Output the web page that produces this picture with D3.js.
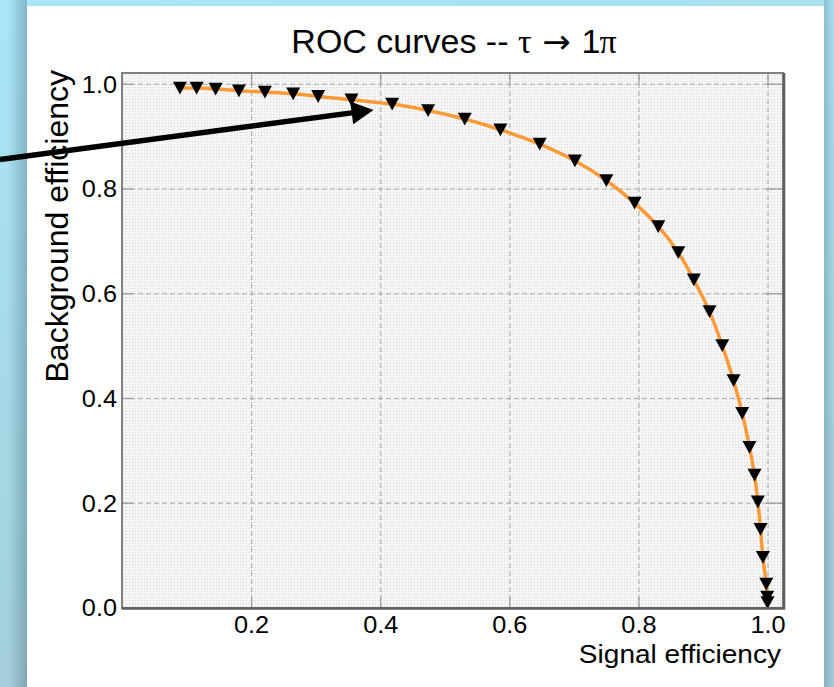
<!DOCTYPE html>
<html><head><meta charset="utf-8">
<script src="https://cdn.jsdelivr.net/npm/d3@7/dist/d3.min.js"></script>
<style>html,body{margin:0;padding:0;overflow:hidden;background:#a8dff0}</style>
</head><body>
<svg id="c" width="834" height="687"></svg>
<script>
// ---- data ----
const titleParts = [
  {t: "ROC curves -- ", font: "sans"},
  {t: "τ", font: "serif"},
  {t: " → ", font: "arrow"},
  {t: "1", font: "sans"},
  {t: "π", font: "serif", dx: -1}
];
const xLabel = "Signal efficiency";
const yLabel = "Background efficiency";
const xTicks = [0.2, 0.4, 0.6, 0.8, 1.0];
const yTicks = [0.0, 0.2, 0.4, 0.6, 0.8, 1.0];
const xTickLabels = ["0.2", "0.4", "0.6", "0.8", "1.0"];
const yTickLabels = ["0.0", "0.2", "0.4", "0.6", "0.8", "1.0"];
const signalEff = [0.0898, 0.1156, 0.1450, 0.1811, 0.2214, 0.2652, 0.3039, 0.3556, 0.4185,
  0.4742, 0.5310, 0.5862, 0.6471, 0.7017, 0.7503, 0.7941, 0.8308, 0.8618, 0.8859, 0.9102,
  0.9299, 0.9474, 0.9608, 0.9721, 0.9799, 0.9850, 0.9892, 0.9929, 0.9981, 0.9995, 1.0000];
const backgroundEff = [0.9918, 0.9918, 0.9899, 0.9866, 0.9841, 0.9809, 0.9758, 0.9694, 0.9612,
  0.9490, 0.9326, 0.9121, 0.8848, 0.8529, 0.8153, 0.7721, 0.7275, 0.6778, 0.6256, 0.5650,
  0.5001, 0.4332, 0.3710, 0.3060, 0.2530, 0.2020, 0.1494, 0.0959, 0.0449, 0.0200, 0.0095];
const arrowFrom = [-0.189, 0.8553];
const arrowTo = [0.3896, 0.9499];

// ---- layout ----
const W = 834, H = 687;
const L = 122, T = 73, R = 783, B = 608;
const FONT = "'Liberation Sans', Arial, Helvetica, sans-serif";
const FONTS = {sans: FONT, serif: "'Liberation Serif', 'Times New Roman', serif", arrow: "'DejaVu Sans', sans-serif"};
const svg = d3.select("#c");
const defs = svg.append("defs");

const bg = defs.append("linearGradient").attr("id","bg").attr("x1",0).attr("y1",0).attr("x2",0.3).attr("y2",1);
bg.append("stop").attr("offset","0%").attr("stop-color","#a9e6f7");
bg.append("stop").attr("offset","100%").attr("stop-color","#a3cdd9");
const shL = defs.append("linearGradient").attr("id","shL").attr("x1",0).attr("x2",1).attr("y1",0).attr("y2",0);
shL.append("stop").attr("offset","0%").attr("stop-color","#3a6070").attr("stop-opacity",0);
shL.append("stop").attr("offset","100%").attr("stop-color","#3a6070").attr("stop-opacity",0.35);
const shR = defs.append("linearGradient").attr("id","shR").attr("x1",0).attr("x2",1).attr("y1",0).attr("y2",0);
shR.append("stop").attr("offset","0%").attr("stop-color","#3a6070").attr("stop-opacity",0.25);
shR.append("stop").attr("offset","100%").attr("stop-color","#3a6070").attr("stop-opacity",0);
const pat = defs.append("pattern").attr("id","dots").attr("width",3).attr("height",3).attr("patternUnits","userSpaceOnUse");
pat.append("rect").attr("width",3).attr("height",3).attr("fill","#f5f5f5");
pat.append("rect").attr("width",1).attr("height",1).attr("fill","#d8d8d8");

svg.append("rect").attr("width",W).attr("height",H).attr("fill","url(#bg)");
svg.append("rect").attr("x",8).attr("y",0).attr("width",19).attr("height",H).attr("fill","url(#shL)");
svg.append("rect").attr("x",824).attr("y",0).attr("width",10).attr("height",H).attr("fill","url(#shR)");
svg.append("rect").attr("x",27).attr("y",6).attr("width",797).attr("height",H-6).attr("fill","#ffffff");

const x = d3.scaleLinear().domain([0, 1.024]).range([L, R]);
const y = d3.scaleLinear().domain([0, 1.0205]).range([607.5, T]);

svg.append("rect").attr("x",L).attr("y",T).attr("width",R-L).attr("height",B-T).attr("fill","url(#dots)");

// grid via axes
const gx = svg.append("g").attr("transform",`translate(0,${B})`)
  .call(d3.axisBottom(x).tickValues(xTicks).tickSize(-(B-T)).tickFormat(""));
const gy = svg.append("g").attr("transform",`translate(${L},0)`)
  .call(d3.axisLeft(y).tickValues(yTicks.slice(1)).tickSize(-(R-L)).tickFormat(""));
[gx, gy].forEach(g => {
  g.select(".domain").remove();
  g.selectAll("line").attr("stroke","#a8a8a8").attr("stroke-width",1).attr("stroke-dasharray","5,3");
});

// inner solid ticks on all four sides
const tk = 11;
const tb = svg.append("g").attr("transform",`translate(0,${B})`).call(d3.axisTop(x).tickValues(xTicks).tickSize(tk).tickFormat(""));
const tt = svg.append("g").attr("transform",`translate(0,${T})`).call(d3.axisBottom(x).tickValues(xTicks).tickSize(tk).tickFormat(""));
const tl = svg.append("g").attr("transform",`translate(${L},0)`).call(d3.axisRight(y).tickValues(yTicks.slice(1)).tickSize(tk).tickFormat(""));
const tr = svg.append("g").attr("transform",`translate(${R},0)`).call(d3.axisLeft(y).tickValues(yTicks.slice(1)).tickSize(tk+6).tickFormat(""));
[tb, tt, tl, tr].forEach(g => {
  g.select(".domain").remove();
  g.selectAll("line").attr("stroke","#999").attr("stroke-width",1.2);
});

// curve
const pts = signalEff.map((s,i) => [s, backgroundEff[i]]);
svg.append("path").datum(pts)
  .attr("d", d3.line().x(d => x(d[0])).y(d => y(d[1])).curve(d3.curveCatmullRom.alpha(0.5)))
  .attr("fill","none").attr("stroke","#fd9a38").attr("stroke-width",3.5);

// markers
const tri = "M-7,-6.3L7,-6.3L0,6.5Z";
svg.append("g").selectAll("path").data(pts).join("path")
  .attr("d", tri).attr("transform", d => `translate(${x(d[0])},${y(d[1])})`).attr("fill","#000");

// frame
svg.append("rect").attr("x",L).attr("y",T).attr("width",R-L).attr("height",B-T)
  .attr("fill","none").attr("stroke","#808080").attr("stroke-width",2);
svg.append("path").attr("d",`M${L},${B+0.5}H${R+1}V${T}`).attr("fill","none").attr("stroke","#5e5e5e").attr("stroke-width",2.5);

// tick labels
const axB = svg.append("g").attr("transform",`translate(0,${B})`)
  .call(d3.axisBottom(x).tickValues(xTicks).tickSize(0).tickPadding(0).tickFormat((d,i) => xTickLabels[i]));
axB.select(".domain").remove();
axB.selectAll("text").attr("font-family",FONT).attr("font-size",23).attr("fill","#000")
  .attr("dy",null).attr("y",25.5).attr("transform","scale(1.1,1)");
const axL = svg.append("g").attr("transform",`translate(117,0)`)
  .call(d3.axisLeft(y).tickValues(yTicks).tickSize(0).tickPadding(0).tickFormat((d,i) => yTickLabels[i]));
axL.select(".domain").remove();
axL.selectAll("text").attr("font-family",FONT).attr("font-size",23).attr("fill","#000")
  .attr("dy","0.36em").attr("x",0).attr("text-anchor","end").attr("transform","scale(1.1,1)");

// axis titles
svg.append("text").attr("transform","translate(781,663) scale(1.1,1)")
  .attr("text-anchor","end").attr("font-family",FONT).attr("font-size",25.5).attr("fill","#000").text(xLabel);
svg.append("text").attr("transform","translate(68,70) rotate(-90)")
  .attr("text-anchor","end").attr("font-family",FONT).attr("font-size",32).attr("fill","#000").text(yLabel);

// title
const tEl = svg.append("text").attr("transform","translate(454,53) scale(1.03,1)")
  .attr("text-anchor","middle").attr("font-family",FONT).attr("font-size",33).attr("fill","#000");
titleParts.forEach(p => {
  const s = tEl.append("tspan").text(p.t).attr("font-family", FONTS[p.font]);
  if (p.dx) s.attr("dx", p.dx);
});

// arrow annotation
const ax0 = x(arrowFrom[0]), ay0 = y(arrowFrom[1]), ax1 = x(arrowTo[0]), ay1 = y(arrowTo[1]);
const len = Math.hypot(ax1-ax0, ay1-ay0), ux = (ax1-ax0)/len, uy = (ay1-ay0)/len;
const hl = 22, hw = 11.5;
const bx = ax1 - hl*ux, by = ay1 - hl*uy;
svg.append("line").attr("x1",ax0).attr("y1",ay0).attr("x2",bx+2*ux).attr("y2",by+2*uy)
  .attr("stroke","#000").attr("stroke-width",5.5);
svg.append("path").attr("d",`M${ax1},${ay1}L${bx - hw*uy},${by + hw*ux}L${bx + hw*uy},${by - hw*ux}Z`).attr("fill","#000");
</script>
</body></html>
